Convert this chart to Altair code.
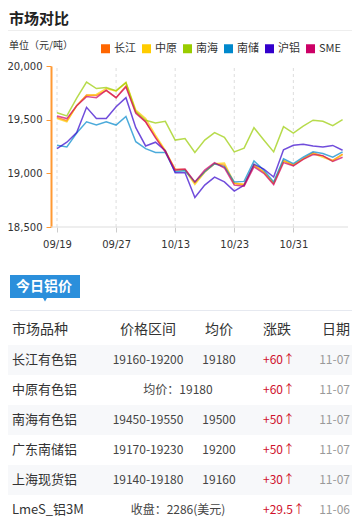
import altair as alt
import pandas as pd

# ---------------- data ----------------
dates = ["09/19", "09/20", "09/21", "09/22", "09/25", "09/26", "09/27", "09/28", "09/29",
         "10/10", "10/11", "10/12", "10/13", "10/16", "10/17", "10/18", "10/19", "10/20",
         "10/23", "10/24", "10/25", "10/26", "10/27", "10/30", "10/31", "11/01", "11/02",
         "11/03", "11/06", "11/07"]
axis_dates = ["09/19", "09/27", "10/13", "10/23", "10/31"]
y_ticks = [18500, 19000, 19500, 20000]

series = ["长江", "中原", "南海", "南储", "沪铝", "SME"]
colors = ["#ff6600", "#ffcc00", "#99cc00", "#0088cc", "#3300cc", "#cc0066"]

changjiang = [19520, 19490, 19630, 19730, 19725, 19770, 19705, 19815, 19570, 19480,
              19340, 19205, 19040, 19035, 18910, 19015, 19090, 19075, 18905, 18895,
              19075, 19015, 18905, 19120, 19075, 19135, 19190, 19160, 19120, 19180]
zhongyuan = [19510, 19480, 19630, 19725, 19735, 19790, 19765, 19845, 19590, 19510,
             19355, 19215, 19030, 19030, 18895, 19010, 19090, 19095, 18910, 18895,
             19080, 19010, 18910, 19115, 19080, 19135, 19185, 19150, 19115, 19175]
nanhai = [19565, 19535, 19700, 19850, 19790, 19800, 19770, 19845, 19575, 19495,
          19470, 19485, 19310, 19325, 19195, 19310, 19380, 19335, 19200, 19235,
          19425, 19310, 19200, 19435, 19375, 19440, 19495, 19485, 19445, 19500]
nanchu = [19262, 19246, 19375, 19480, 19450, 19480, 19450, 19530, 19295, 19230,
          19195, 19195, 19015, 19025, 18920, 19015, 19090, 19060, 18920, 18925,
          19115, 19030, 18920, 19135, 19090, 19150, 19200, 19185, 19150, 19200]
hulv = [19230, 19290, 19380, 19615, 19510, 19510, 19620, 19705, 19425, 19255,
        19290, 19210, 19005, 19005, 18775, 18890, 18965, 18920, 18835, 18890,
        19085, 19040, 18965, 19220, 19262, 19272, 19255, 19245, 19260, 19215]
sme = [19535, 19510, 19630, 19715, 19705, 19775, 19705, 19805, 19560, 19480,
       19330, 19200, 19030, 19040, 18920, 19030, 19100, 19050, 18890, 18880,
       19060, 19000, 18895, 19100, 19070, 19130, 19175, 19165, 19110, 19150]

headers = ["市场品种", "价格区间", "均价", "涨跌", "日期"]
markets = ["长江有色铝", "中原有色铝", "南海有色铝", "广东南储铝", "上海现货铝", "LmeS_铝3M"]
ranges = ["19160-19200", "", "19450-19550", "19170-19230", "19140-19180", ""]
avgs = ["19180", "", "19500", "19200", "19160", ""]
merged = ["", "均价：19180", "", "", "", "收盘：2286(美元)"]
changes = ["+60", "+60", "+50", "+50", "+30", "+29.5"]
day = ["11-07", "11-07", "11-07", "11-07", "11-07", "11-06"]

# ---------------- layout ----------------
CJK = "Noto Sans CJK SC"
W, H = 301, 512
PADL = 43


def px(a):
    return a - 51


def py(b):
    return b - 8


rows = []
for s, v in zip(series, [changjiang, zhongyuan, nanhai, nanchu, hulv, sme]):
    for d, val in zip(dates, v):
        rows.append({"date": d, "series": s, "price": val})
df = pd.DataFrame(rows)

xs = alt.Scale(type="point", domain=dates, range=[px(57), px(342.6)], padding=0)
ys = alt.Scale(domain=[18500, 20000], range=[py(227), py(66)], nice=False, zero=False)

xaxis = alt.Axis(values=axis_dates, domain=False, ticks=True, tickColor="#cccccc",
                 tickSize=5, labelPadding=7, labelFont="DejaVu Sans", labelFontSize=10,
                 labelColor="#333333", grid=False, title=None, labelAngle=0,
                 offset=-(H - py(227)))
yaxis = alt.Axis(values=y_ticks, format=",d", domainColor="#ff9933", domainWidth=2,
                 tickColor="#ff9933", tickSize=5, labelPadding=4,
                 labelFont="DejaVu Sans", labelFontSize=10, labelColor="#333333",
                 grid=False, title=None)
cscale = alt.Scale(domain=series, range=colors)

grid = alt.Chart(pd.DataFrame({"date": axis_dates})).mark_rule(
    color="#dddddd", strokeDash=[3, 3], strokeWidth=1
).encode(x=alt.X("date:N", scale=xs, axis=xaxis), y=alt.datum(18500), y2=alt.datum(20000))

baseline = alt.Chart(pd.DataFrame({"date": [dates[0]]})).mark_rule(color="#dddddd").encode(
    x=alt.value(0), x2=alt.value(W - 4), y=alt.datum(18500)
)

lines = alt.Chart(df).mark_line(strokeWidth=1.5, opacity=0.7).encode(
    x=alt.X("date:N", scale=xs, axis=xaxis),
    y=alt.Y("price:Q", scale=ys, axis=yaxis),
    color=alt.Color("series:N", scale=cscale, legend=alt.Legend(
        orient="none", legendX=49, legendY=35, direction="horizontal", title=None,
        symbolType="square", symbolSize=16, symbolStrokeWidth=5, symbolOpacity=1,
        labelFont=CJK, labelFontSize=11, labelColor="#333333", columnPadding=-2,
        labelOffset=3, padding=0)),
)

chart_part = alt.layer(grid, baseline, lines)

# ---------------- table ----------------
n = len(markets)
rs = alt.Scale(domain=[0, n], range=[py(330), py(510)], nice=False, zero=False)

stripes = alt.Chart(pd.DataFrame({"r": list(range(1, n + 1))})).transform_filter(
    "datum.r % 2 == 1"
).transform_calculate(r0="datum.r - 0.5", r1="datum.r + 0.5").mark_rect(
    color="#f7f8fa"
).encode(x=alt.value(-PADL), x2=alt.value(W), y=alt.Y("r0:Q", scale=rs, axis=None), y2="r1:Q")


def col_layer(texts, header, x, align, color, size, suffix=""):
    rr = list(range(1, n + 1))
    tt = list(texts)
    if header is not None:
        rr = [0] + rr
        tt = [header] + tt
    d = pd.DataFrame({"r": rr, "t": tt})
    return alt.Chart(d).transform_filter("datum.t != ''").transform_calculate(
        c=f"datum.r == 0 ? '#333333' : '{color}'",
        s=f"datum.r == 0 ? 14 : {size}",
        tx=f"datum.r == 0 ? datum.t : datum.t + '{suffix}'",
    ).mark_text(align=align, baseline="middle", font=CJK).encode(
        x=alt.value(x),
        y=alt.Y("r:Q", scale=rs, axis=None),
        text="tx:N",
        fill=alt.Fill("c:N", scale=None),
        size=alt.Size("s:Q", scale=None),
    )


table_part = alt.layer(
    stripes,
    col_layer(markets, headers[0], px(12), "left", "#333333", 13),
    col_layer(ranges, headers[1], px(148), "center", "#444444", 12),
    col_layer(avgs, headers[2], px(219), "center", "#444444", 12),
    col_layer(merged, None, px(178), "center", "#444444", 12),
    col_layer(changes, headers[3], px(263), "left", "#d0112b", 12, "↑"),
    col_layer(day, headers[4], px(350), "right", "#999999", 12),
)

# ---------------- decorations ----------------
one = pd.DataFrame({"t": ["市场对比"]})
title = alt.Chart(one).mark_text(align="left", baseline="middle", font=CJK, fontSize=15,
                                 fontWeight="bold", color="#222222").encode(
    x=alt.value(-PADL + 1), y=alt.value(py(19)), text="t:N")
sep1 = alt.Chart(one).mark_rule(color="#eeeeee").encode(
    x=alt.value(-PADL), x2=alt.value(W), y=alt.value(py(30.5)))
unit = alt.Chart(pd.DataFrame({"t": ["单位（元/吨）"]})).mark_text(
    align="left", baseline="middle", font=CJK, fontSize=10, color="#333333").encode(
    x=alt.value(-PADL + 1), y=alt.value(py(46)), text="t:N")
tab = alt.Chart(one).mark_rect(color="#2b8fdb").encode(
    x=alt.value(px(10)), x2=alt.value(px(80)), y=alt.value(py(275)), y2=alt.value(py(298)))
pointer = alt.Chart(one).mark_point(shape="triangle-down", filled=True, size=22,
                                    color="#2b8fdb", opacity=1).encode(
    x=alt.value(px(45)), y=alt.value(py(299.5)))
tab_text = alt.Chart(pd.DataFrame({"t": ["今日铝价"]})).mark_text(
    align="center", baseline="middle", font=CJK, fontSize=14, fontWeight="bold",
    color="#ffffff").encode(x=alt.value(px(44)), y=alt.value(py(286.5)), text="t:N")
sep2 = alt.Chart(one).mark_rule(color="#e6e9f0").encode(
    x=alt.value(-PADL + 2), x2=alt.value(W), y=alt.value(py(310.5)))

chart = alt.layer(
    chart_part, table_part, title, sep1, unit, tab, pointer, tab_text, sep2
).resolve_scale(x="independent", y="independent").properties(
    width=W, height=H,
    autosize=alt.AutoSizeParams(type="none"),
    padding={"left": PADL, "top": 0, "right": 0, "bottom": 0},
).configure_view(stroke=None)

chart.save("out.html", embed_options={"renderer": "svg", "actions": False})
